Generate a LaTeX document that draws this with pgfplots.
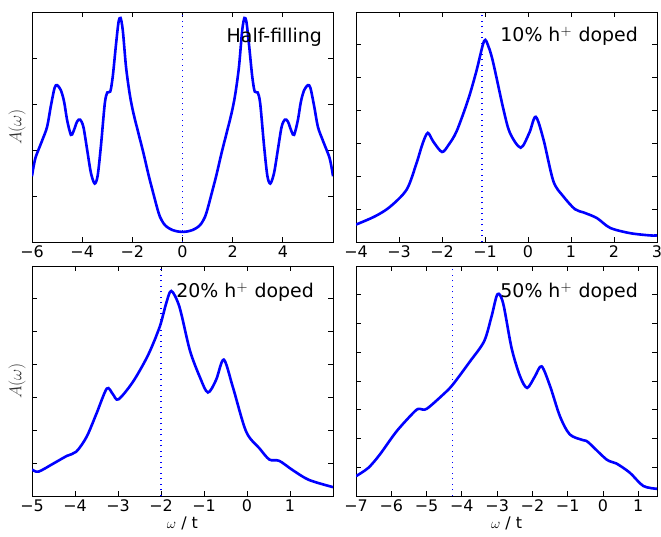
\documentclass[border=0pt]{standalone}
\usepackage{pgfplots}
\pgfplotsset{compat=1.18}
\usepackage{fontspec}
\setmainfont{DejaVu Sans}
\tikzset{ann/.style={anchor=east, font=\fontsize{19}{22}\selectfont}}
\newcommand{\hp}{h$^{+}$\hspace{0.35em}doped}
\newcommand{\xlab}{{\fontsize{14}{16}\selectfont$\omega$} / t}
\begin{document}
\begin{tikzpicture}
\path[use as bounding box] (0bp,0bp) rectangle (661bp,537bp);
\pgfplotsset{
  every axis/.append style={
    scale only axis, width=301bp, height=230bp, anchor=south west,
    axis line style={line width=0.8bp},
    every tick/.style={black, line width=0.8bp},
    major tick length=5bp,
    tick align=inside,
    xtick pos=both, ytick pos=both,
    yticklabels={},
    ymin=0,
    tick label style={font=\fontsize{16}{19}\selectfont},
    every axis x label/.style={at={(axis description cs:0.5,0)}, anchor=center, yshift=-27bp, font=\fontsize{16}{19}\selectfont},
    every axis y label/.style={at={(axis description cs:-0.05,0.5)}, anchor=center, rotate=90, font=\fontsize{17}{20}\selectfont, text=black!80},
  },
  curve/.style={blue, line width=2.6bp, smooth, tension=0.5},
  fermi/.style={blue, line width=1.2bp, dash pattern=on 1.2bp off 4.3bp},
}
% Top-left: half filling
\begin{axis}[at={(32bp,295bp)}, xmin=-6, xmax=6, ymax=5,
  xtick={-6,-4,...,6}, xticklabels={−6,−4,−2,0,2,4,},
  ytick={1,2,3,4}, ylabel={$A(\omega)$}]
\addplot[fermi] coordinates {(0,0) (0,5)};
\addplot[curve] coordinates {
(-6,1.43)(-5.95,1.6)(-5.85,1.85)(-5.6,2.2)(-5.4,2.5)(-5.25,2.95)(-5.1,3.35)(-5.0,3.41)(-4.85,3.3)(-4.72,3.05)(-4.6,2.65)(-4.45,2.33)(-4.35,2.4)(-4.2,2.62)(-4.08,2.66)(-3.95,2.5)(-3.8,2.0)(-3.65,1.5)(-3.5,1.27)(-3.38,1.45)(-3.25,2.1)(-3.1,3.0)(-3.0,3.25)(-2.88,3.27)(-2.78,3.6)(-2.65,4.3)(-2.55,4.78)(-2.47,4.87)(-2.38,4.6)(-2.25,3.8)(-2.1,3.2)(-1.96,2.81)(-1.75,2.35)(-1.56,1.94)(-1.35,1.45)(-1.17,1.07)(-1.0,0.72)(-0.9,0.55)(-0.75,0.4)(-0.6,0.32)(-0.4,0.26)(-0.2,0.23)(0,0.22)
(0.2,0.23)(0.4,0.26)(0.6,0.32)(0.75,0.4)(0.9,0.55)(1.0,0.72)(1.17,1.07)(1.35,1.45)(1.56,1.94)(1.75,2.35)(1.96,2.81)(2.1,3.2)(2.25,3.8)(2.38,4.6)(2.47,4.87)(2.55,4.78)(2.65,4.3)(2.78,3.6)(2.88,3.27)(3.0,3.25)(3.1,3.0)(3.25,2.1)(3.38,1.45)(3.5,1.27)(3.65,1.5)(3.8,2.0)(3.95,2.5)(4.08,2.66)(4.2,2.62)(4.35,2.4)(4.45,2.33)(4.6,2.65)(4.72,3.05)(4.85,3.3)(5.0,3.41)(5.1,3.35)(5.25,2.95)(5.4,2.5)(5.6,2.2)(5.85,1.85)(5.95,1.6)(6,1.43)};
\node[ann] at (rel axis cs:0.975,0.89) {Half-filling};
\end{axis}
% Top-right: 10%
\begin{axis}[at={(356bp,295bp)}, xmin=-4, xmax=3, ymax=7,
  xtick={-4,...,3}, xticklabels={−4,−3,−2,−1,0,1,2,3},
  ytick={1,...,6}]
\addplot[fermi] coordinates {(-1.07,0) (-1.07,7)};
\addplot[curve] coordinates {
(-4,0.53)(-3.56,0.78)(-3.21,1.07)(-2.82,1.6)(-2.59,2.41)(-2.45,3.0)(-2.33,3.32)(-2.2,3.05)(-2.0,2.74)(-1.85,2.95)(-1.66,3.37)(-1.39,4.34)(-1.2,5.2)(-1.02,6.12)(-0.92,5.95)(-0.81,5.46)(-0.57,4.03)(-0.42,3.32)(-0.17,2.87)(0.03,3.32)(0.18,3.81)(0.36,3.12)(0.59,1.85)(0.82,1.39)(1.09,1.0)(1.29,0.9)(1.6,0.73)(1.91,0.43)(2.37,0.27)(2.84,0.2)(3,0.2)};
\node[ann] at (rel axis cs:0.948,0.895) {10\% \hp};
\end{axis}
% Bottom-left: 20%
\begin{axis}[at={(32bp,41bp)}, xmin=-5, xmax=2, ymax=7,
  xtick={-5,...,2}, xticklabels={−5,−4,−3,−2,−1,0,1,},
  ytick={1,...,6}, ylabel={$A(\omega)$}, xlabel={\xlab}]
\addplot[fermi] coordinates {(-2,0) (-2,7)};
\addplot[curve] coordinates {
(-5,0.81)(-4.85,0.74)(-4.5,0.99)(-4.19,1.22)(-3.97,1.35)(-3.73,1.8)(-3.5,2.51)(-3.26,3.27)(-3.12,3.1)(-2.99,2.94)(-2.65,3.48)(-2.3,4.29)(-2.03,5.15)(-1.88,5.86)(-1.76,6.24)(-1.57,5.75)(-1.33,4.44)(-1.1,3.63)(-0.91,3.15)(-0.72,3.53)(-0.54,4.15)(-0.33,3.32)(-0.02,1.96)(0.29,1.45)(0.52,1.11)(0.75,1.07)(1.06,0.79)(1.44,0.49)(2,0.27)};
\node[ann] at (rel axis cs:0.948,0.884) {20\% \hp};
\end{axis}
% Bottom-right: 50%
\begin{axis}[at={(356bp,41bp)}, xmin=-7, xmax=1.53, ymax=8,
  xtick={-7,...,1}, xticklabels={−7,−6,−5,−4,−3,−2,−1,0,1},
  ytick={1,...,7}, xlabel={\xlab}]
\addplot[fermi] coordinates {(-4.26,0) (-4.26,8)};
\addplot[curve] coordinates {
(-7,0.69)(-6.65,0.98)(-6.32,1.45)(-5.85,2.25)(-5.33,2.95)(-5.19,3.03)(-5.0,3.03)(-4.53,3.53)(-4.26,3.87)(-3.77,4.68)(-3.37,5.38)(-3.16,6.24)(-2.99,7.02)(-2.83,6.7)(-2.59,5.14)(-2.35,4.16)(-2.15,3.76)(-1.93,4.16)(-1.74,4.51)(-1.5,3.82)(-1.22,2.77)(-0.94,2.14)(-0.56,1.94)(-0.42,1.87)(0.1,1.27)(0.38,1.13)(0.76,0.81)(1.14,0.35)(1.53,0.25)};
\node[ann] at (rel axis cs:0.948,0.884) {50\% \hp};
\end{axis}
\end{tikzpicture}
\end{document}
